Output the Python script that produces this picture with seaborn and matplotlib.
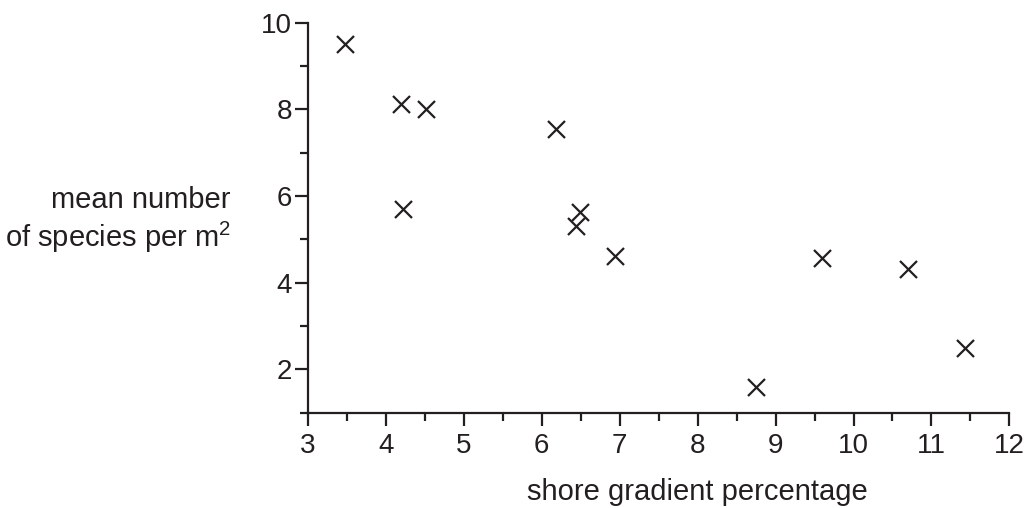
import matplotlib
matplotlib.use("Agg")
import matplotlib.pyplot as plt
from matplotlib.ticker import MultipleLocator
import pandas as pd
import seaborn as sns

# values
gradient = [3.47, 4.20, 4.52, 4.22, 6.18, 6.49, 6.44, 6.94, 8.75, 9.60, 10.70, 11.43]
species = [9.52, 8.12, 8.02, 5.70, 7.54, 5.64, 5.30, 4.61, 1.59, 4.58, 4.31, 2.50]

INK = "#231f20"

df = pd.DataFrame({"gradient": gradient, "species": species})

sns.set_style("ticks")
plt.rcParams["font.family"] = ["Liberation Sans", "DejaVu Sans"]
plt.rcParams["mathtext.fontset"] = "custom"
plt.rcParams["mathtext.rm"] = "Liberation Sans"

fig = plt.figure(figsize=(10.30, 5.08), dpi=100)
ax = fig.add_axes([0.299, 0.1876, 0.681, 0.7677])

sns.scatterplot(data=df, x="gradient", y="species", ax=ax, marker="x",
                s=150, color=INK, linewidth=1.6, legend=False)

ax.set_xlim(3, 12)
ax.set_ylim(1, 10)
ax.xaxis.set_major_locator(MultipleLocator(1))
ax.xaxis.set_minor_locator(MultipleLocator(0.5))
ax.yaxis.set_major_locator(MultipleLocator(2))
ax.yaxis.set_minor_locator(MultipleLocator(1))

sns.despine(ax=ax)
for side in ["left", "bottom"]:
    ax.spines[side].set_linewidth(1.6)
    ax.spines[side].set_color(INK)

ax.tick_params(which="major", length=9.5, width=1.6, color=INK,
               labelsize=20, labelcolor=INK, pad=2)
ax.tick_params(axis="x", which="major", pad=5)
ax.tick_params(which="minor", length=6, width=1.6, color=INK)

ax.set_xlabel("")
ax.set_ylabel("")

fig.text(0.677, 0.016, "shore gradient percentage", ha="center", va="baseline",
         fontsize=21, color=INK)
fig.text(0.224, 0.514, "mean number\nof species per m$^2$", ha="right",
         va="baseline", fontsize=21, color=INK, linespacing=1.2)

fig.savefig("out.png", dpi=100)
